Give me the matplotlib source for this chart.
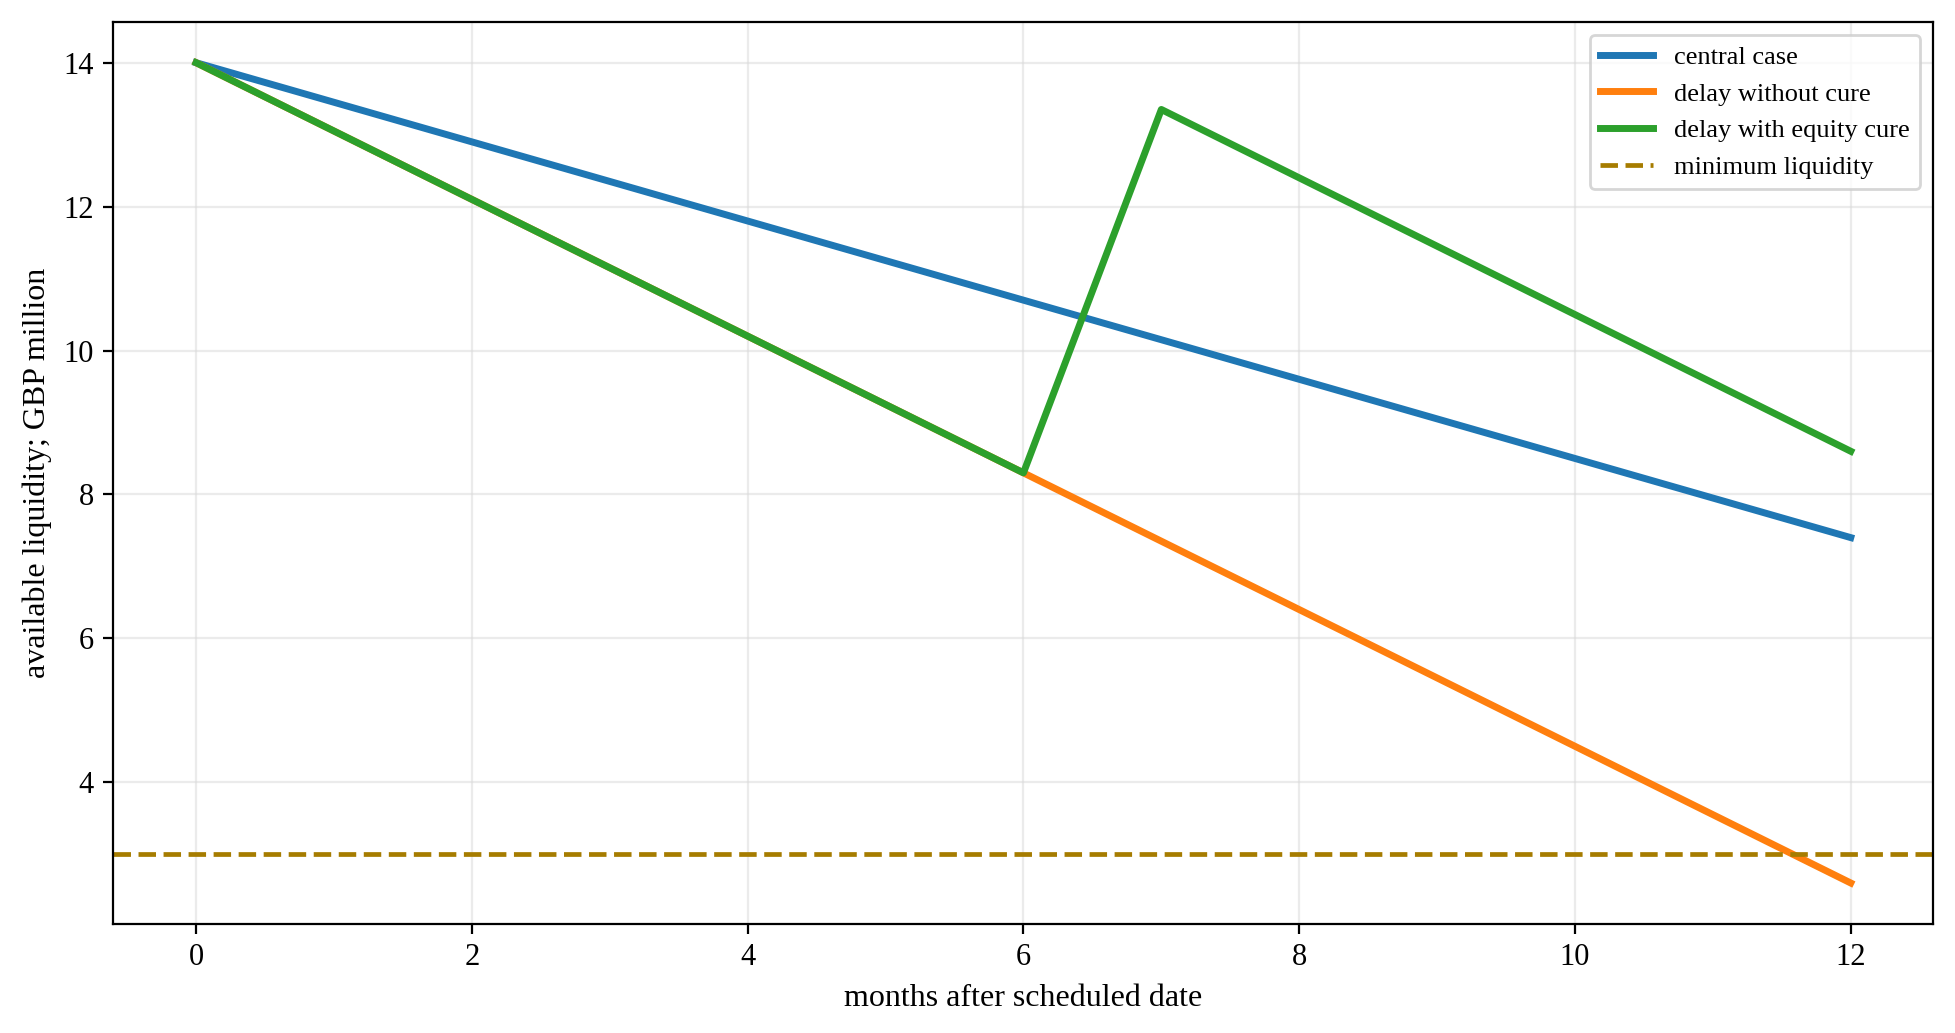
import matplotlib
matplotlib.use("Agg")
import matplotlib.pyplot as plt

months = [0, 1, 2, 3, 4, 5, 6, 7, 8, 9, 10, 11, 12]
central_case = [14.0, 13.45, 12.9, 12.35, 11.8, 11.25, 10.7, 10.15, 9.6, 9.05, 8.5, 7.95, 7.4]
delay_without_cure = [14.0, 13.05, 12.1, 11.15, 10.2, 9.25, 8.3, 7.35, 6.4, 5.45, 4.5, 3.55, 2.6]
delay_with_cure = [14.0, 13.05, 12.1, 11.15, 10.2, 9.25, 8.3, 13.35, 12.4, 11.45, 10.5, 9.55, 8.6]
minimum_liquidity = 3.0

plt.rcParams['font.family'] = ['Liberation Serif', 'DejaVu Serif']
plt.rcParams['font.size'] = 11

fig, ax = plt.subplots(figsize=(9.775, 5.165), dpi=200)
fig.subplots_adjust(left=0.058, right=0.989, top=0.979, bottom=0.1055)

ax.plot(months, central_case, color='#1f77b4', lw=2.5, label='central case')
ax.plot(months, delay_without_cure, color='#ff7f0e', lw=2.5, label='delay without cure')
ax.plot(months, delay_with_cure, color='#2ca02c', lw=2.5, label='delay with equity cure')
ax.axhline(minimum_liquidity, color='#a67c00', lw=1.7, ls='--', label='minimum liquidity')

ax.grid(True, color='#d8d8d8', alpha=0.5, lw=0.8)
ax.set_xlabel('months after scheduled date', fontsize=11.5)
ax.set_ylabel('available liquidity; GBP million', fontsize=11.5)
ax.legend(loc='upper right', fontsize=9.5)

fig.savefig('out.png', dpi=200)
